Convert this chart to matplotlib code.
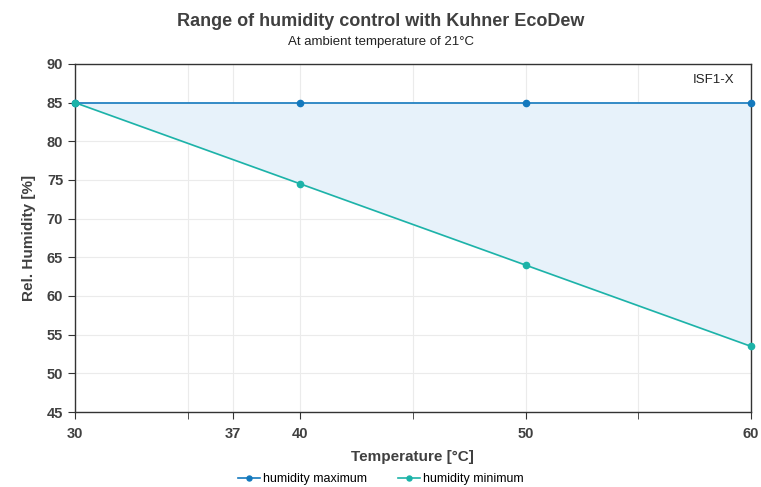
import matplotlib.pyplot as plt
import matplotlib.ticker as mticker

plt.rcParams['font.family'] = ['Liberation Sans', 'DejaVu Sans']

temp = [30, 40, 50, 60]
hum_max = [85, 85, 85, 85]
hum_min = [85, 74.5, 64, 53.5]
xtick_labels = [30, 37, 40, 50, 60]
xtick_minor = [35, 45, 55]

c_max = '#1479bd'
c_min = '#1cb3a8'
txt = '#404040'

fig = plt.figure(figsize=(7.61, 4.87), dpi=100)
ax = fig.add_axes([0.0986, 0.154, 0.888, 0.7146])

ax.fill_between(temp, hum_min, hum_max, color='#e7f2fa', zorder=1)
ax.plot(temp, hum_max, color=c_max, lw=1.2, marker='o', ms=4.5, label='humidity maximum', zorder=3, clip_on=False)
ax.plot(temp, hum_min, color=c_min, lw=1.2, marker='o', ms=4.5, label='humidity minimum', zorder=3, clip_on=False)

ax.set_xlim(30, 60)
ax.set_ylim(45, 90)
ax.set_xticks(xtick_labels)
ax.set_xticks(xtick_minor, minor=True)
ax.yaxis.set_major_locator(mticker.MultipleLocator(5))
ax.grid(True, which='both', color='#ebebeb', lw=0.8, zorder=0)
ax.set_axisbelow(True)
ax.tick_params(which='both', direction='out', length=5, color='#333333', labelsize=10.5, labelcolor=txt)
ax.tick_params(axis='x', pad=6)
for lbl in ax.get_xticklabels() + ax.get_yticklabels():
    lbl.set_fontweight('bold')
for s in ax.spines.values():
    s.set_color('#333333')
    s.set_linewidth(1.0)

ax.set_xlabel('Temperature [°C]', fontsize=11, fontweight='bold', color=txt, labelpad=6)
ax.set_ylabel('Rel. Humidity [%]', fontsize=11, fontweight='bold', color=txt, labelpad=8)

ax.text(0.975, 0.955, 'ISF1-X', transform=ax.transAxes, ha='right', va='center', fontsize=9.5, color='#222222')

fig.text(0.5, 0.956, 'Range of humidity control with Kuhner EcoDew', ha='center', va='center',
         fontsize=13, fontweight='bold', color=txt)
fig.text(0.5, 0.914, 'At ambient temperature of 21°C', ha='center', va='center', fontsize=9.5, color='#222222')

fig.legend(loc='center', bbox_to_anchor=(0.5, 0.016), ncol=2, frameon=False, fontsize=9,
           handlelength=1.8, columnspacing=2.5, handletextpad=0.2, markerscale=0.8)

fig.savefig('out.png', dpi=100)
